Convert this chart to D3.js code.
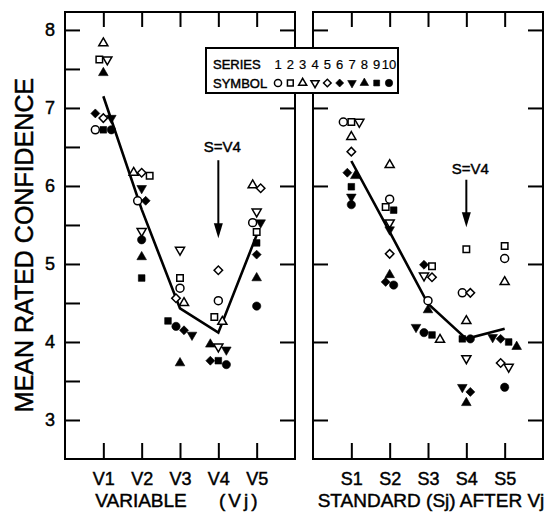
<!DOCTYPE html>
<html>
<head>
<meta charset="utf-8">
<script src="https://cdn.jsdelivr.net/npm/d3@7"></script>
<style>
  body { margin: 0; background: #fff; }
  text { font-family: "Liberation Sans", Arial, sans-serif; fill: #000; stroke: #000; stroke-width: 0.45px; }
</style>
</head>
<body>
<svg id="chart" width="551" height="514"></svg>
<script>
'use strict'

// categories
const variables = ['V1', 'V2', 'V3', 'V4', 'V5']
const standards = ['S1', 'S2', 'S3', 'S4', 'S5']
const seriesLabels = ['1', '2', '3', '4', '5', '6', '7', '8', '9', '10']
const yTicks = [3, 3.5, 4, 4.5, 5, 5.5, 6, 6.5, 7, 7.5, 8]

// mean rated confidence, one row per series (1..10), one column per category
const variableScores = [
  [6.72, 5.81, 4.69, 4.53, 5.53],
  [7.62, 6.13, 4.82, 4.32, 5.41],
  [7.83, 6.17, 4.50, 4.26, 6.01],
  [7.62, 5.42, 5.18, 3.94, 5.67],
  [6.87, 6.17, 4.56, 4.92, 5.97],
  [6.93, 5.81, 4.15, 3.76, 5.12],
  [6.87, 5.97, 4.09, 3.90, 5.53],
  [7.45, 5.09, 3.73, 3.97, 4.82],
  [6.72, 4.82, 4.27, 3.76, 5.27],
  [6.72, 5.31, 4.20, 3.71, 4.46]
]
const standardScores = [
  [6.82, 5.83, 4.53, 4.63, 5.07],
  [6.82, 5.73, 4.97, 5.19, 5.23],
  [6.63, 6.27, 4.03, 4.27, 4.77],
  [6.82, 5.53, 4.85, 3.79, 3.68],
  [6.44, 5.13, 4.83, 4.63, 3.73],
  [6.17, 4.77, 4.99, 3.36, 4.04],
  [5.86, 5.44, 4.19, 3.42, 4.06],
  [6.13, 4.86, 4.41, 3.22, 3.94],
  [5.99, 5.69, 4.09, 4.04, 4.00],
  [5.76, 4.73, 4.12, 4.04, 3.42]
]
// the mean line drawn through each panel
const variableMeans = [7.15, 5.70, 4.43, 4.12, 5.37]
const standardMeans = [6.32, 5.41, 4.49, 4.04, 4.17]

// "S=V4" arrows: label height, arrow start and arrow tip (in rating units)
const variableArrow = {at: 'V4', label: 'S=V4', text: 6.44, from: 6.33, to: 5.33}
const standardArrow = {at: 'S4', label: 'S=V4', text: 6.15, from: 6.08, to: 5.47}

// symbol for each series (1 ○, 2 □, 3 △, 4 ▽, 5 ◇, 6 ◆, 7 ▼, 8 ▲, 9 ■, 10 ●)
const symbolStyles = [
  {type: d3.symbolCircle, size: 50, rot: 0, filled: false},
  {type: d3.symbolSquare, size: 42, rot: 0, filled: false},
  {type: d3.symbolTriangle, size: 36, rot: 0, filled: false},
  {type: d3.symbolTriangle, size: 36, rot: 180, filled: false},
  {type: d3.symbolSquare, size: 36, rot: 45, filled: false},
  {type: d3.symbolSquare, size: 40, rot: 45, filled: true},
  {type: d3.symbolTriangle, size: 40, rot: 180, filled: true},
  {type: d3.symbolTriangle, size: 40, rot: 0, filled: true},
  {type: d3.symbolSquare, size: 44, rot: 0, filled: true},
  {type: d3.symbolCircle, size: 54, rot: 0, filled: true}
]

const svg = d3.select('#chart')
const plotTop = 12, plotBottom = 459
const y = d3.scaleLinear().domain([2.5, 8.23]).range([plotBottom, plotTop])

// spread points that would sit on top of each other sideways
function dodge (values, gap, step) {
  const order = d3.range(values.length).sort((a, b) => values[b] - values[a])
  const offsets = new Array(values.length).fill(0)
  let group = [order[0]]
  const flush = () => group.forEach((k, i) => { offsets[k] = (i - (group.length - 1) / 2) * step })
  for (let i = 1; i < order.length; i++) {
    const prev = group[group.length - 1]
    if (Math.abs(y(values[order[i]]) - y(values[prev])) < gap) group.push(order[i])
    else { flush(); group = [order[i]] }
  }
  flush()
  return offsets
}

function drawSymbol (sel, s, scale) {
  sel.attr('d', d3.symbol().type(s.type).size(s.size * (scale || 1)))
    .attr('fill', s.filled ? '#000' : '#fff')
    .attr('stroke', '#000')
    .attr('stroke-width', s.filled ? 0.6 : 1.5)
}

function drawPanel (left, right, cats, scores, means, arrow, halfTicks) {
  const x = d3.scalePoint().domain(cats).range([left, right]).padding(1)
  const g = svg.append('g')

  // axes (ticks pointing into the frame)
  const la = g.append('g').attr('transform', `translate(${left},0)`)
    .call(d3.axisLeft(y).tickValues(halfTicks ? yTicks : yTicks.filter(Number.isInteger))
      .tickSize(-15).tickPadding(10).tickFormat(d => halfTicks && Number.isInteger(d) ? d : ''))
  const ra = g.append('g').attr('transform', `translate(${right},0)`)
    .call(d3.axisRight(y).tickValues(yTicks.filter(Number.isInteger)).tickSize(-15).tickFormat(''))
  const ta = g.append('g').attr('transform', `translate(0,${plotTop})`)
    .call(d3.axisTop(x).tickSize(-15).tickFormat(''))
  const ba = g.append('g').attr('transform', `translate(0,${plotBottom})`)
    .call(d3.axisBottom(x).tickSize(-16).tickPadding(13))
  ;[la, ra, ta, ba].forEach(a => {
    a.select('.domain').remove()
    a.selectAll('line').attr('stroke', '#000').attr('stroke-width', 2)
    a.selectAll('text').style('font-size', '18px').attr('fill', '#000')
  })

  g.append('rect')
    .attr('x', left).attr('y', plotTop)
    .attr('width', right - left).attr('height', plotBottom - plotTop)
    .attr('fill', 'none').attr('stroke', '#000').attr('stroke-width', 2)

  // arrow
  const ax = x(arrow.at)
  g.append('text').attr('x', ax + 4).attr('y', y(arrow.text))
    .attr('text-anchor', 'middle').style('font-size', '15px').text(arrow.label)
  g.append('line').attr('x1', ax).attr('x2', ax)
    .attr('y1', y(arrow.from)).attr('y2', y(arrow.to) - 12)
    .attr('stroke', '#000').attr('stroke-width', 2)
  g.append('path')
    .attr('d', `M${ax - 4.5},${y(arrow.to) - 15}L${ax + 4.5},${y(arrow.to) - 15}L${ax},${y(arrow.to)}Z`)
    .attr('fill', '#000')

  // mean line
  g.append('path').datum(means)
    .attr('d', d3.line().x((d, i) => x(cats[i])).y(d => y(d)))
    .attr('fill', 'none').attr('stroke', '#000').attr('stroke-width', 2.6)

  // points
  cats.forEach((c, j) => {
    const col = scores.map(row => row[j])
    const off = dodge(col, 6.5, 8)
    col.forEach((v, k) => {
      const s = symbolStyles[k]
      g.append('path')
        .attr('transform', `translate(${x(c) + off[k]},${y(v)}) rotate(${s.rot})`)
        .call(drawSymbol, s)
    })
  })
}

drawPanel(65, 295, variables, variableScores, variableMeans, variableArrow, true)
drawPanel(313, 543, standards, standardScores, standardMeans, standardArrow, false)

// legend box
const lg = svg.append('g')
lg.append('rect').attr('x', 206).attr('y', 48).attr('width', 192).attr('height', 45)
  .attr('fill', '#fff').attr('stroke', '#000').attr('stroke-width', 2)
lg.append('text').attr('x', 213).attr('y', 69).style('font-size', '13px').text('SERIES')
lg.append('text').attr('x', 213).attr('y', 88).style('font-size', '13px').text('SYMBOL')
const lx = d3.scalePoint().domain(seriesLabels).range([278, 389])
seriesLabels.forEach((s, k) => {
  lg.append('text').attr('x', lx(s)).attr('y', 69).attr('text-anchor', 'middle')
    .style('font-size', '13px').style('stroke-width', '0.2px').text(s)
  const st = symbolStyles[k]
  lg.append('path')
    .attr('transform', `translate(${lx(s)},${83}) rotate(${st.rot})`)
    .call(drawSymbol, st, 0.8)
})

// axis titles
svg.append('text').attr('transform', 'translate(33,245) rotate(-90)')
  .attr('text-anchor', 'middle').style('font-size', '25px').text('MEAN RATED CONFIDENCE')
svg.append('text').attr('x', 141).attr('y', 507).attr('text-anchor', 'middle')
  .style('font-size', '19px').text('VARIABLE')
svg.append('text').attr('x', 219).attr('y', 507).style('font-size', '19px')
  .style('letter-spacing', '3px').text('(Vj)')
svg.append('text').attr('x', 431).attr('y', 507).attr('text-anchor', 'middle')
  .style('font-size', '19px').text('STANDARD (Sj) AFTER Vj')
</script>
</body>
</html>
